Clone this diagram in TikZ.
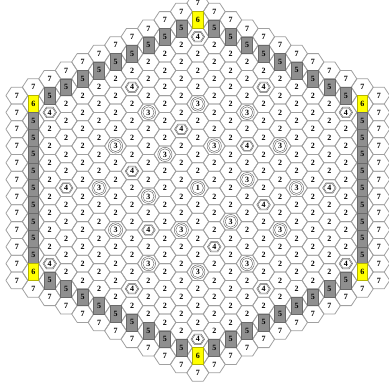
\documentclass[tikz,border=0pt]{standalone}
\usepackage{fontspec}
\setmainfont{Liberation Serif}
\definecolor{hexgray}{HTML}{A0A0A0}
\definecolor{cellgray}{HTML}{8F8F8F}
\definecolor{cellgrayline}{HTML}{6A6A6A}
\definecolor{cellyellow}{HTML}{FFFF00}
\definecolor{cellyellowline}{HTML}{B5B500}
\begin{document}
\begin{tikzpicture}[x=1pt,y=1pt,
  hexline/.style={draw=hexgray,line width=0.8pt,line join=round},
  graycell/.style={fill=cellgray,draw=cellgrayline,line width=0.6pt},
  yellowcell/.style={fill=cellyellow,draw=cellyellowline,line width=0.6pt},
  markline/.style={draw=black!60,line width=0.45pt},
  lbl/.style={inner sep=0pt,font=\fontsize{8}{8}\selectfont\bfseries}]
\def\cx{197.8}\def\cy{188}\def\dx{16.45}\def\hh{8.4}\def\aa{10.97}\def\ab{5.48}
\useasboundingbox (0,0) rectangle (389,-383);
% pass 1: hexagon outlines
\foreach \hq in {-11,...,11}{
 \foreach \hr in {-11,...,11}{
  \pgfmathtruncatemacro\hs{-(\hq)-(\hr)}
  \pgfmathtruncatemacro\hd{max(abs(\hq),abs(\hr),abs(\hs))}
  \ifnum\hd<12
   \pgfmathsetmacro\hX{\cx+\dx*(\hq)}
   \pgfmathsetmacro\hY{-(\cy+\hh*(2*(\hr)+(\hq)))}
   \path[hexline,shift={(\hX,\hY)}] (\aa,0) -- (\ab,\hh) -- (-\ab,\hh) -- (-\aa,0) -- (-\ab,-\hh) -- (\ab,-\hh) -- cycle;
  \fi
 }}
% pass 2: cell contents
\foreach \hq in {-11,...,11}{
 \foreach \hr in {-11,...,11}{
  \pgfmathtruncatemacro\hs{-(\hq)-(\hr)}
  \pgfmathtruncatemacro\hd{max(abs(\hq),abs(\hr),abs(\hs))}
  \ifnum\hd<12
   \pgfmathsetmacro\hX{\cx+\dx*(\hq)}
   \pgfmathsetmacro\hY{-(\cy+\hh*(2*(\hr)+(\hq)))}
   \pgfmathtruncatemacro\hz{((\hq)==0)||((\hr)==0)||((\hs)==0)}
   \pgfmathtruncatemacro\hm{((\hq)==(\hr))||((\hr)==(\hs))||((\hq)==(\hs))}
   \pgfmathtruncatemacro\hca{(abs(\hs)==4&&abs(\hq)==1)||(abs(\hr)==4&&abs(\hs)==1)||(abs(\hq)==4&&abs(\hr)==1)}
   \pgfmathtruncatemacro\hcb{(abs(\hs)==3&&abs(\hq)==2)||(abs(\hr)==3&&abs(\hs)==2)||(abs(\hq)==3&&abs(\hr)==2)}
   \def\hl{2}%
   \ifnum\hd=11 \def\hl{7}\fi
   \ifnum\hd=10 \ifnum\hz=1 \def\hl{6}\else\def\hl{5}\fi\fi
   \ifnum\hd=9 \ifnum\hz=1 \def\hl{4}\fi\fi
   \ifnum\hd=8 \ifnum\hm=1 \def\hl{4}\fi\fi
   \ifnum\hd=4 \ifnum\hca=1 \def\hl{4}\fi\fi
   \ifnum\hd=6 \ifnum\hm=1 \def\hl{3}\fi\fi
   \ifnum\hd=5 \ifnum\hz=1 \def\hl{3}\fi\fi
   \ifnum\hd=3 \ifnum\hcb=1 \def\hl{3}\fi\fi
   \ifnum\hd=0 \def\hl{1}\fi
   \begin{scope}[shift={(\hX,\hY)}]
   \ifnum\hl=5 \path[graycell] (-\ab,-\hh) rectangle (\ab,\hh);\fi
   \ifnum\hl=6 \path[yellowcell] (-\ab,-\hh) rectangle (\ab,\hh);\fi
   \ifnum\hl=4
     \path[markline] (0.62*\aa,0) -- (0.31*\aa,0.62*\hh) -- (-0.31*\aa,0.62*\hh) -- (-0.62*\aa,0) -- (-0.31*\aa,-0.62*\hh) -- (0.31*\aa,-0.62*\hh) -- cycle;
     \path[markline] (0.52*\aa,0) -- (0.26*\aa,0.52*\hh) -- (-0.26*\aa,0.52*\hh) -- (-0.52*\aa,0) -- (-0.26*\aa,-0.52*\hh) -- (0.26*\aa,-0.52*\hh) -- cycle;
   \fi
   \ifnum\hl=3 \path[markline] (0,0) circle (7.1) (0,0) circle (5.6);\fi
   \ifnum\hl=1 \path[markline] (0,0) circle (7.1) (0,0) circle (5.6);\fi
   \node[lbl] (n\hq_\hr) at (0,0) {\hl};
   \end{scope}
  \fi
 }}
\end{tikzpicture}
\end{document}
